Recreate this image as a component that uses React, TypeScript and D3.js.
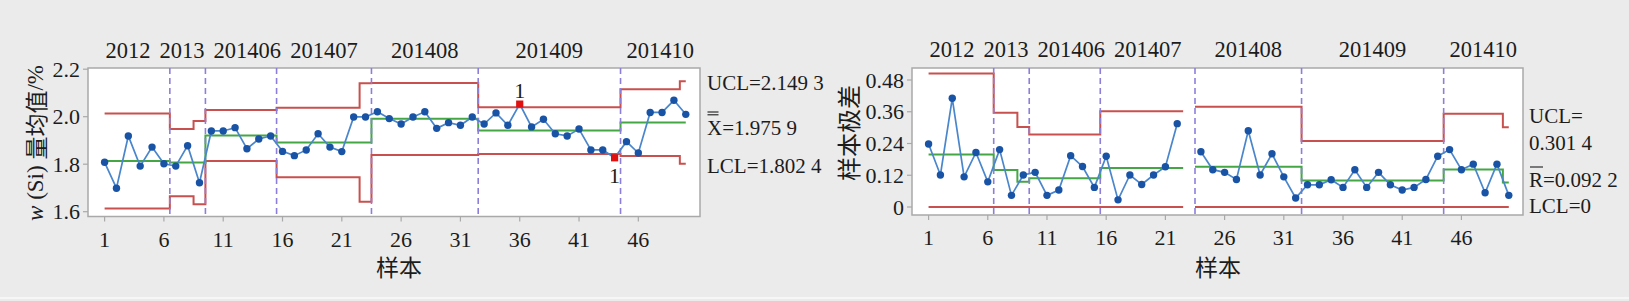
import React from "react";
import * as d3 from "d3";

type Seg = [number, number, number];

// ---------- data ----------
const sampleIds: number[] = d3.range(1, 51);
const stageNames = ["2012", "2013", "201406", "201407", "201408", "201409", "201410"];
const stageEnds = [6, 9, 15, 23, 32, 44, 50];
const xTickValues = [1, 6, 11, 16, 21, 26, 31, 36, 41, 46];
const xbarTicks = [1.6, 1.8, 2.0, 2.2];
const rangeTicks = [0, 0.12, 0.24, 0.36, 0.48];

const xbarValues = [
  1.808, 1.699, 1.919, 1.792, 1.872, 1.802,
  1.792, 1.878, 1.722,
  1.94, 1.94, 1.954, 1.865, 1.906, 1.919,
  1.854, 1.836, 1.86, 1.928, 1.872, 1.853, 1.999, 1.999,
  2.021, 1.992, 1.969, 1.999, 2.021, 1.951, 1.975, 1.964, 1.999,
  1.969, 2.016, 1.964, 2.053, 1.957, 1.989, 1.928, 1.919, 1.948, 1.86, 1.86, 1.827,
  1.895, 1.847, 2.018, 2.018, 2.069, 2.01,
];

const rangeValues: (number | null)[] = [
  0.238, 0.121, 0.411, 0.114, 0.206, 0.095,
  0.217, 0.044, 0.121,
  0.131, 0.044, 0.064, 0.194, 0.153, 0.074,
  0.192, 0.027, 0.121, 0.085, 0.121, 0.152, 0.315, null,
  0.209, 0.141, 0.131, 0.104, 0.288, 0.121, 0.201, 0.114, 0.034,
  0.084, 0.084, 0.103, 0.074, 0.141, 0.074, 0.131, 0.084, 0.064, 0.074, 0.104, 0.192,
  0.217, 0.141, 0.162, 0.054, 0.162, 0.044,
];

// [from sample, to sample, value]
const xbarUCL: Seg[] = [[1, 6, 2.014], [7, 8, 1.948], [9, 9, 1.982], [10, 15, 2.028], [16, 22, 2.038], [23, 23, 2.141], [24, 32, 2.142], [33, 44, 2.04], [45, 49, 2.116], [50, 50, 2.1493]];
const xbarCL: Seg[] = [[1, 6, 1.8135], [7, 9, 1.807], [10, 15, 1.921], [16, 23, 1.8915], [24, 32, 1.991], [33, 44, 1.9415], [45, 50, 1.9759]];
const xbarLCL: Seg[] = [[1, 6, 1.613], [7, 8, 1.665], [9, 9, 1.631], [10, 15, 1.813], [16, 22, 1.745], [23, 23, 1.642], [24, 32, 1.839], [33, 44, 1.843], [45, 49, 1.835], [50, 50, 1.8024]];

const rangeUCL: Seg[] = [[1, 6, 0.505], [7, 8, 0.356], [9, 9, 0.302], [10, 15, 0.274], [16, 22, 0.362], [24, 32, 0.379], [33, 44, 0.249], [45, 49, 0.352], [50, 50, 0.3014]];
const rangeCL: Seg[] = [[1, 6, 0.198], [7, 8, 0.14], [9, 9, 0.095], [10, 15, 0.109], [16, 22, 0.147], [24, 32, 0.152], [33, 44, 0.1], [45, 49, 0.142], [50, 50, 0.0922]];
const rangeLCL: Seg[] = [[1, 22, 0], [24, 50, 0]];

// ---------- style ----------
const C = {
  bg: "#ebebeb",
  frame: "#a9a9a9",
  text: "#1c1c1c",
  data: "#4a86cc",
  point: "#1953a6",
  limit: "#c8504e",
  center: "#45a645",
  stage: "#8c7fdc",
  alarm: "#e01010",
};
const SERIF = "'Liberation Serif', 'Times New Roman', 'Noto Sans CJK SC', serif";
const LATIN = "'Liberation Serif', 'Times New Roman', serif";
const CJK = "'Noto Sans CJK SC', sans-serif";
const FS_TICK = 22;
const FS_STAGE = 22.5;
const FS_LAB = 21;
const X_DOMAIN: [number, number] = [-0.4, 51.2];

function perSample(segs: Seg[]): (number | null)[] {
  const out: (number | null)[] = sampleIds.map(() => null);
  segs.forEach(([a, b, v]) => {
    for (let i = a; i <= b; i++) out[i - 1] = v;
  });
  return out;
}

function stepRuns(vals: (number | null)[]): [number, number][][] {
  const first = sampleIds[0];
  const last = sampleIds[sampleIds.length - 1];
  const runs: [number, number][][] = [];
  let cur: [number, number][] | null = null;
  sampleIds.forEach((i, k) => {
    const v = vals[k];
    if (v == null) {
      if (cur) runs.push(cur);
      cur = null;
      return;
    }
    const xs = i === first ? first : i - 0.5;
    const xe = i === last ? last : i + 0.5;
    if (!cur) cur = [];
    cur.push([xs, v], [xe, v]);
  });
  if (cur) runs.push(cur);
  return runs;
}

function fmt(v: number): string {
  if (v === 0) return "0";
  const s = v.toFixed(4);
  return s.slice(0, -1) + " " + s.slice(-1);
}

type Cfg = {
  left: number;
  right: number;
  top: number;
  bottom: number;
  yDomain: [number, number];
  yRange: [number, number];
  yTicks: number[];
  yTickFmt: (v: number) => string;
  values: (number | null)[];
  ucl: Seg[];
  cl: Seg[];
  lcl: Seg[];
  alarms: boolean;
  stageBaseline: number;
};

function ControlChart({ cfg }: { cfg: Cfg }) {
  const x = d3.scaleLinear().domain(X_DOMAIN).range([cfg.left, cfg.right]);
  const y = d3.scaleLinear().domain(cfg.yDomain).range(cfg.yRange);
  const lineGen = d3
    .line<[number, number]>()
    .x((d) => x(d[0]))
    .y((d) => y(d[1]));

  const uclS = perSample(cfg.ucl);
  const lclS = perSample(cfg.lcl);

  const dataLine = d3
    .line<number>()
    .defined((_, k) => cfg.values[k] != null)
    .x((i) => x(i))
    .y((_, k) => y(cfg.values[k] as number))(sampleIds);

  // stage labels with overlap avoidance
  const starts = stageEnds.map((e, k) => (k === 0 ? X_DOMAIN[0] : stageEnds[k - 1] + 0.5));
  const ends = stageEnds.map((e, k) => (k === stageEnds.length - 1 ? X_DOMAIN[1] : e + 0.5));
  const centers = stageNames.map((_, k) => (x(starts[k]) + x(ends[k])) / 2);
  const widths = stageNames.map((n) => n.length * FS_STAGE * 0.5);
  const GAP = 9;
  for (let it = 0; it < 5; it++) {
    for (let k = 1; k < centers.length; k++) {
      const r = centers[k - 1] + widths[k - 1] / 2;
      const l = centers[k] - widths[k] / 2;
      const ov = r + GAP - l;
      if (ov > 0) {
        centers[k - 1] -= ov / 2;
        centers[k] += ov / 2;
      }
    }
  }

  return (
    <g>
      <rect
        x={cfg.left}
        y={cfg.top}
        width={cfg.right - cfg.left}
        height={cfg.bottom - cfg.top}
        fill="#fff"
        stroke={C.frame}
        strokeWidth={1.5}
      />
      {/* y ticks */}
      {cfg.yTicks.map((t) => (
        <g key={"y" + t}>
          <line x1={cfg.left - 5} x2={cfg.left} y1={y(t)} y2={y(t)} stroke={C.frame} strokeWidth={1.2} />
          <text
            x={cfg.left - 8}
            y={y(t)}
            dy="0.35em"
            textAnchor="end"
            fontFamily={LATIN}
            fontSize={FS_TICK}
            fill={C.text}
          >
            {cfg.yTickFmt(t)}
          </text>
        </g>
      ))}
      {/* x ticks */}
      {xTickValues.map((t) => (
        <g key={"x" + t}>
          <line x1={x(t)} x2={x(t)} y1={cfg.bottom} y2={cfg.bottom + 5} stroke={C.frame} strokeWidth={1.2} />
          <text x={x(t)} y={cfg.bottom + 30} textAnchor="middle" fontFamily={LATIN} fontSize={FS_TICK} fill={C.text}>
            {t}
          </text>
        </g>
      ))}
      {/* limits */}
      {stepRuns(perSample(cfg.ucl)).map((r, k) => (
        <path key={"u" + k} d={lineGen(r) || ""} fill="none" stroke={C.limit} strokeWidth={2} />
      ))}
      {stepRuns(perSample(cfg.lcl)).map((r, k) => (
        <path key={"l" + k} d={lineGen(r) || ""} fill="none" stroke={C.limit} strokeWidth={2} />
      ))}
      {stepRuns(perSample(cfg.cl)).map((r, k) => (
        <path key={"c" + k} d={lineGen(r) || ""} fill="none" stroke={C.center} strokeWidth={2} />
      ))}
      {/* stage separators */}
      {stageEnds.slice(0, -1).map((e) => (
        <line
          key={"s" + e}
          x1={x(e + 0.5)}
          x2={x(e + 0.5)}
          y1={cfg.top}
          y2={cfg.bottom}
          stroke={C.stage}
          strokeWidth={1.6}
          strokeDasharray="6,4"
        />
      ))}
      {/* stage labels */}
      {stageNames.map((n, k) => (
        <text
          key={"n" + n}
          x={centers[k]}
          y={cfg.stageBaseline}
          textAnchor="middle"
          fontFamily={LATIN}
          fontSize={FS_STAGE}
          fill={C.text}
        >
          {n}
        </text>
      ))}
      {/* data */}
      <path d={dataLine || ""} fill="none" stroke={C.data} strokeWidth={1.7} />
      {sampleIds.map((i, k) => {
        const v = cfg.values[k];
        if (v == null) return null;
        const hi = cfg.alarms && uclS[k] != null && v > (uclS[k] as number);
        const lo = cfg.alarms && lclS[k] != null && v < (lclS[k] as number);
        if (hi || lo) {
          return (
            <g key={"p" + i}>
              <rect x={x(i) - 3.6} y={y(v) - 3.6} width={7.2} height={7.2} fill={C.alarm} />
              <text
                x={x(i)}
                y={hi ? y(v) - 6 : y(v) + 25}
                textAnchor="middle"
                fontFamily={LATIN}
                fontSize={FS_TICK}
                fill={C.text}
              >
                1
              </text>
            </g>
          );
        }
        return <circle key={"p" + i} cx={x(i)} cy={y(v)} r={3.7} fill={C.point} />;
      })}
    </g>
  );
}

export default function App() {
  const W = 1629;
  const H = 301;
  const leftCfg: Cfg = {
    left: 88,
    right: 700,
    top: 68,
    bottom: 216.5,
    yDomain: [1.6, 2.2],
    yRange: [211.7, 69.2],
    yTicks: xbarTicks,
    yTickFmt: (v) => v.toFixed(1),
    values: xbarValues,
    ucl: xbarUCL,
    cl: xbarCL,
    lcl: xbarLCL,
    alarms: true,
    stageBaseline: 58,
  };
  const rightCfg: Cfg = {
    left: 912,
    right: 1523,
    top: 68,
    bottom: 215,
    yDomain: [0, 0.48],
    yRange: [207, 80],
    yTicks: rangeTicks,
    yTickFmt: (v) => (v === 0 ? "0" : v.toFixed(2)),
    values: rangeValues,
    ucl: rangeUCL,
    cl: rangeCL,
    lcl: rangeLCL,
    alarms: false,
    stageBaseline: 57,
  };
  const lastOf = (s: Seg[]) => s[s.length - 1][2];
  const txt = { fontFamily: LATIN, fontSize: FS_LAB, fill: C.text };

  return (
    <div style={{ position: "absolute", left: 0, top: 0 }}>
      <svg width={W} height={H} style={{ display: "block" }}>
        <rect x={0} y={0} width={W} height={H} fill={C.bg} />
        <rect x={0} y={297} width={W} height={2} fill="#f6f6f6" />
        <ControlChart cfg={leftCfg} />
        <ControlChart cfg={rightCfg} />

        {/* left y title */}
        <text
          transform="translate(35,143) rotate(-90)"
          textAnchor="middle"
          dominantBaseline="central"
          fontSize={23}
          fill={C.text}
        >
          <tspan fontFamily={LATIN} fontStyle="italic">w</tspan>
          <tspan fontFamily={LATIN}> (Si) </tspan>
          <tspan fontFamily={CJK}>量均值</tspan>
          <tspan fontFamily={LATIN}>/%</tspan>
        </text>
        {/* right y title */}
        <text
          transform="translate(847,133) rotate(-90)"
          textAnchor="middle"
          dominantBaseline="central"
          fontFamily={CJK}
          fontSize={24}
          fill={C.text}
        >
          样本极差
        </text>
        {/* x titles */}
        <text x={399} y={276} textAnchor="middle" fontFamily={CJK} fontSize={23} fill={C.text}>
          样本
        </text>
        <text x={1218} y={276} textAnchor="middle" fontFamily={CJK} fontSize={23} fill={C.text}>
          样本
        </text>

        {/* left limit labels */}
        <text x={707} y={90} {...txt}>
          UCL={fmt(lastOf(xbarUCL))}
        </text>
        <text x={707} y={135} {...txt}>
          X={fmt(lastOf(xbarCL))}
        </text>
        <line x1={707.5} x2={718.5} y1={112} y2={112} stroke={C.text} strokeWidth={1.1} />
        <line x1={707.5} x2={718.5} y1={114.8} y2={114.8} stroke={C.text} strokeWidth={1.1} />
        <text x={707} y={172.7} {...txt}>
          LCL={fmt(lastOf(xbarLCL))}
        </text>

        {/* right limit labels */}
        <text x={1529} y={122.7} {...txt}>
          UCL=
        </text>
        <text x={1529} y={150} {...txt}>
          {fmt(lastOf(rangeUCL))}
        </text>
        <text x={1529} y={186.7} {...txt}>
          R={fmt(lastOf(rangeCL))}
        </text>
        <line x1={1530} x2={1543} y1={167} y2={167} stroke={C.text} strokeWidth={1.1} />
        <text x={1529} y={212.7} {...txt}>
          LCL={fmt(lastOf(rangeLCL))}
        </text>
      </svg>
    </div>
  );
}
